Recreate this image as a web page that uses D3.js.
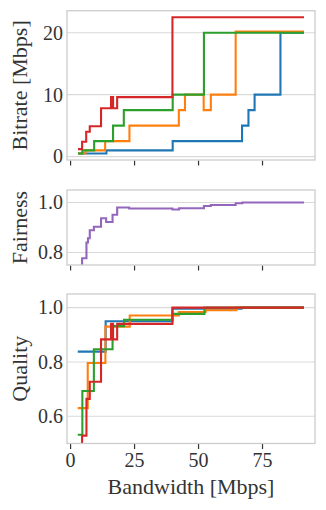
<!DOCTYPE html>
<html>
<head>
<meta charset="utf-8">
<script src="https://cdn.jsdelivr.net/npm/d3@7"></script>
<style>
  body { margin: 0; background: #fff; }
  svg { display: block; }
  text { font-family: "Liberation Serif", "DejaVu Serif", serif; fill: #333; }
</style>
</head>
<body>
<div class="chart"></div>
<script>
// bandwidth / bitrate steps, one array pair per run
var brBlueX = [3.1, 14.2, 40.1, 67.2, 69.7, 72.1, 82.2, 91.4];
var brBlueY = [0.5, 1.0, 2.5, 5.0, 7.5, 10, 20, 20];
var brOrangeX = [3.1, 6.0, 13.7, 23.2, 42.5, 44.9, 52.2, 55.0, 64.7, 91.4];
var brOrangeY = [0.5, 1.0, 2.5, 5.0, 7.5, 10, 7.5, 10, 20.2, 20.2];
var brGreenX = [3.1, 4.8, 9.4, 16.8, 21.0, 40.1, 52.3, 91.4];
var brGreenY = [0.5, 1.0, 2.5, 5.0, 7.5, 10, 20, 20];
var brRedX = [3.1, 4.7, 6.3, 7.7, 12.1, 16.0, 16.8, 18.4, 40.0, 91.4];
var brRedY = [1.2, 2.4, 4.0, 4.9, 7.8, 9.6, 7.8, 9.6, 22.5, 22.5];

var fairX = [3.1, 4.7, 6.4, 7.0, 7.7, 9.3, 12.1, 14.1, 16.6, 18.4, 23.1, 40.0, 42.6, 52.3, 55.0, 64.7, 67.3, 91.4];
var fairY = [0.6, 0.777, 0.84, 0.857, 0.889, 0.903, 0.937, 0.922, 0.951, 0.98, 0.976, 0.972, 0.977, 0.986, 0.99, 0.997, 1.0, 1.0];

var qBlueX = [3.0, 13.9, 40.0, 67.0, 91.4];
var qBlueY = [0.838, 0.95, 0.996, 1.0, 1.0];
var qOrangeX = [3.0, 6.9, 13.8, 23.3, 42.5, 53.0, 65.0, 91.4];
var qOrangeY = [0.63, 0.796, 0.93, 0.971, 0.984, 0.99, 1.0, 1.0];
var qGreenX = [3.0, 4.8, 9.3, 16.6, 21.1, 40.0, 52.5, 91.4];
var qGreenY = [0.532, 0.693, 0.847, 0.932, 0.955, 0.977, 1.0, 1.0];
var qRedX = [3.0, 4.7, 6.4, 7.7, 12.1, 16.0, 16.8, 18.4, 40.0, 91.4];
var qRedY = [0.45, 0.529, 0.664, 0.727, 0.883, 0.94, 0.883, 0.94, 1.0, 1.0];

var xTicks = [0, 25, 50, 75];
var brTicks = [0, 10, 20];
var fairTicks = [0.8, 1.0];
var qTicks = [0.6, 0.8, 1.0];

var colors = ["#1f77b4", "#ff7f0e", "#2ca02c", "#d62728", "#9467bd"];

var svgWidth = 326;
var svgHeight = 510;
var left = 67, right = 315;

var svg = d3.select(".chart")
  .append("svg")
  .attr("width", svgWidth)
  .attr("height", svgHeight);

var x = d3.scaleLinear().domain([-1.2, 95.7]).range([left, right]);

function zip(xs, ys) {
  return xs.map(function(d, i) { return [d, ys[i]]; });
}

// one panel: frame, grid, bottom ticks, step lines
function panel(id, top, bottom, yDomain, yTicks, fmt, series, label, showX) {
  var y = d3.scaleLinear().domain(yDomain).range([bottom, top]);
  var g = svg.append("g");

  g.append("clipPath").attr("id", id)
    .append("rect")
    .attr("x", left).attr("y", top)
    .attr("width", right - left).attr("height", bottom - top);

  // horizontal grid
  g.selectAll(".grid")
    .data(yTicks)
    .enter()
    .append("line")
    .attr("x1", left).attr("x2", right)
    .attr("y1", function(d) { return y(d); })
    .attr("y2", function(d) { return y(d); })
    .attr("stroke", "#d9d9d9")
    .attr("stroke-width", 1.1);

  // y tick labels
  var leftAxis = d3.axisLeft(y).tickValues(yTicks).tickSize(0).tickPadding(4).tickFormat(fmt);
  var ya = g.append("g").attr("transform", "translate(" + left + ",0)").call(leftAxis);
  ya.select(".domain").remove();
  ya.selectAll("text").style("font-size", "20px").attr("fill", "#333")
    .style("font-family", "Liberation Serif");

  // x ticks
  var bottomAxis = d3.axisBottom(x).tickValues(xTicks).tickSize(5).tickPadding(4)
    .tickFormat(showX ? d3.format("d") : "");
  var xa = g.append("g").attr("transform", "translate(0," + (bottom + 0.5) + ")").call(bottomAxis);
  xa.select(".domain").remove();
  xa.selectAll("line").attr("stroke", "#333").attr("stroke-width", 1.2);
  xa.selectAll("text").style("font-size", "20px").attr("fill", "#333")
    .style("font-family", "Liberation Serif");

  var line = d3.line()
    .x(function(d) { return x(d[0]); })
    .y(function(d) { return y(d[1]); })
    .curve(d3.curveStepAfter);

  g.append("g").attr("clip-path", "url(#" + id + ")")
    .selectAll("path")
    .data(series)
    .enter()
    .append("path")
    .attr("d", function(d) { return line(d.pts); })
    .attr("fill", "none")
    .attr("stroke", function(d) { return d.color; })
    .attr("stroke-width", 2.1)
    .attr("stroke-linejoin", "miter");

  // frame
  g.append("rect")
    .attr("x", left).attr("y", top)
    .attr("width", right - left).attr("height", bottom - top)
    .attr("fill", "none")
    .attr("stroke", "#cccccc")
    .attr("stroke-width", 1.3);

  // y label
  g.append("text")
    .attr("transform", "translate(27," + ((top + bottom) / 2) + ") rotate(-90)")
    .attr("text-anchor", "middle")
    .style("font-size", "22px")
    .text(label);
}

panel("c1", 10.7, 160, [-0.55, 23.55], brTicks, d3.format("d"), [
  {pts: zip(brBlueX, brBlueY), color: colors[0]},
  {pts: zip(brOrangeX, brOrangeY), color: colors[1]},
  {pts: zip(brGreenX, brGreenY), color: colors[2]},
  {pts: zip(brRedX, brRedY), color: colors[3]}
], "Bitrate [Mbps]", false);

panel("c2", 190, 265, [0.75, 1.05], fairTicks, d3.format(".1f"), [
  {pts: zip(fairX, fairY), color: colors[4]}
], "Fairness", false);

panel("c3", 294, 443.5, [0.5, 1.05], qTicks, d3.format(".1f"), [
  {pts: zip(qBlueX, qBlueY), color: colors[0]},
  {pts: zip(qOrangeX, qOrangeY), color: colors[1]},
  {pts: zip(qGreenX, qGreenY), color: colors[2]},
  {pts: zip(qRedX, qRedY), color: colors[3]}
], "Quality", true);

// x axis label
svg.append("text")
  .attr("x", (left + right) / 2)
  .attr("y", 494)
  .attr("text-anchor", "middle")
  .style("font-size", "22px")
  .text("Bandwidth [Mbps]");
</script>
</body>
</html>
